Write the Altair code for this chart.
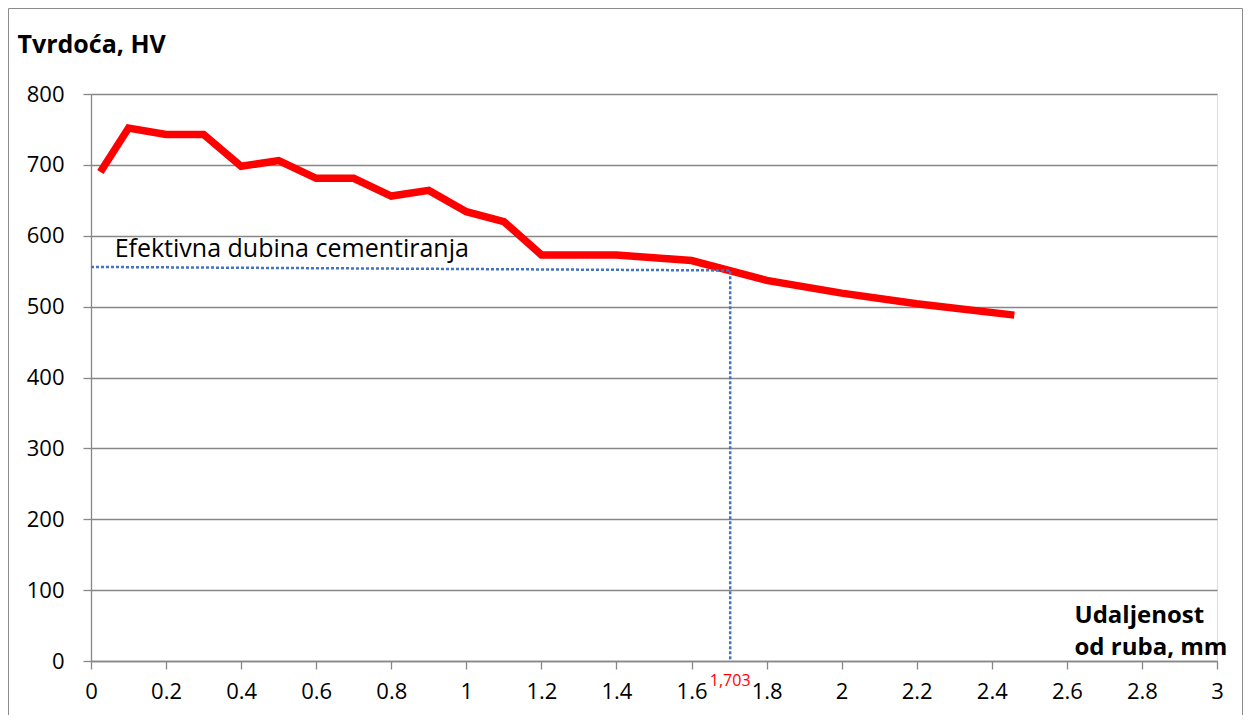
import altair as alt
import pandas as pd

# Hardness curve
dist_mm = [0.025, 0.1, 0.2, 0.3, 0.4, 0.5, 0.6, 0.7, 0.8, 0.9, 1.0, 1.1, 1.2, 1.4, 1.6, 1.8, 2.0, 2.2, 2.46]
hardness = [690, 752, 743, 743, 698, 706, 681, 681, 656, 664, 634, 620, 573, 573, 565, 537, 519, 504, 488]

# Effective case depth guide lines
guide_x = [0.0, 1.703, 1.703]
guide_y = [556, 551, 0]
guide_order = [0, 1, 2]

depth_value = 1.703
depth_label = "1,703"
note_text = "Efektivna dubina cementiranja"
note_x = 0.063
note_y = 570

x_ticks = [round(i * 0.2, 1) for i in range(16)]
y_ticks = list(range(0, 801, 100))

FONT = "Open Sans"
GRID = "#878787"

W, H = 1126, 567
PAD_L, PAD_T, PAD_R, PAD_B = 83, 86, 26, 54

curve_df = pd.DataFrame({"x": dist_mm, "y": hardness})
guide_df = pd.DataFrame({"x": guide_x, "y": guide_y, "o": guide_order})

x_scale = alt.Scale(domain=[0, 3], nice=False)
y_scale = alt.Scale(domain=[0, 800], nice=False)

x_axis = alt.Axis(
    values=x_ticks, format=".1~f", grid=False,
    domainColor=GRID, domainWidth=1.3, tickColor=GRID, tickWidth=1.3, tickSize=8,
    labelFont=FONT, labelFontSize=22, labelColor="black", labelPadding=12,
    labelFlush=False, labelOverlap=False,
    title=["Udaljenost", "od ruba, mm"], titleFont=FONT, titleFontSize=24,
    titleFontWeight="bold", titleColor="black", titleAngle=0, titleAlign="left",
    titleBaseline="alphabetic", titleX=983, titleY=-39, titleLineHeight=32,
)
y_axis = alt.Axis(
    values=y_ticks, grid=True, gridColor=GRID, gridWidth=1.3,
    domainColor=GRID, domainWidth=1.3, tickColor=GRID, tickWidth=1.3, tickSize=8,
    labelFont=FONT, labelFontSize=22, labelColor="black", labelPadding=19,
    labelOverlap=False,
    title="Tvrdoća, HV", titleFont=FONT, titleFontSize=25, titleFontWeight="bold",
    titleColor="black", titleAngle=0, titleAlign="left", titleBaseline="alphabetic",
    titleX=-74, titleY=-42,
)

base = alt.Chart(curve_df)

curve = base.mark_line(color="#FF0000", strokeWidth=7.5, strokeJoin="miter", strokeCap="butt").encode(
    x=alt.X("x:Q", scale=x_scale, axis=x_axis),
    y=alt.Y("y:Q", scale=y_scale, axis=y_axis),
)

guides = alt.Chart(guide_df).mark_line(
    color="#4472C4", strokeWidth=2.5, strokeDash=[3, 2]
).encode(
    x=alt.X("x:Q", scale=x_scale),
    y=alt.Y("y:Q", scale=y_scale),
    order="o:Q",
)

note = alt.Chart(pd.DataFrame({"x": [note_x], "y": [note_y], "t": [note_text]})).mark_text(
    font=FONT, fontSize=25, color="black", align="left", baseline="alphabetic"
).encode(x=alt.X("x:Q", scale=x_scale), y=alt.Y("y:Q", scale=y_scale), text="t:N")

depth = alt.Chart(pd.DataFrame({"x": [depth_value], "y": [0], "t": [depth_label]})).mark_text(
    font=FONT, fontSize=16, color="#FF0000", align="center", baseline="alphabetic", dy=25
).encode(x=alt.X("x:Q", scale=x_scale), y=alt.Y("y:Q", scale=y_scale), text="t:N")

frame = alt.Chart(pd.DataFrame({"a": [0]})).mark_rect(
    fill=None, stroke="#8C8C8C", strokeWidth=1
).encode(
    x=alt.value(-PAD_L + 0.5), x2=alt.value(W + PAD_R - 0.5),
    y=alt.value(-PAD_T + 0.5), y2=alt.value(H + PAD_B + 20),
)

chart = alt.layer(frame, curve, guides, note, depth).properties(
    width=W, height=H,
    autosize=alt.AutoSizeParams(type="none"),
    padding={"left": PAD_L, "top": PAD_T, "right": PAD_R, "bottom": PAD_B},
).configure_view(stroke=None).configure(background="white")

chart.save("out.html", embed_options={"renderer": "svg", "actions": False})
